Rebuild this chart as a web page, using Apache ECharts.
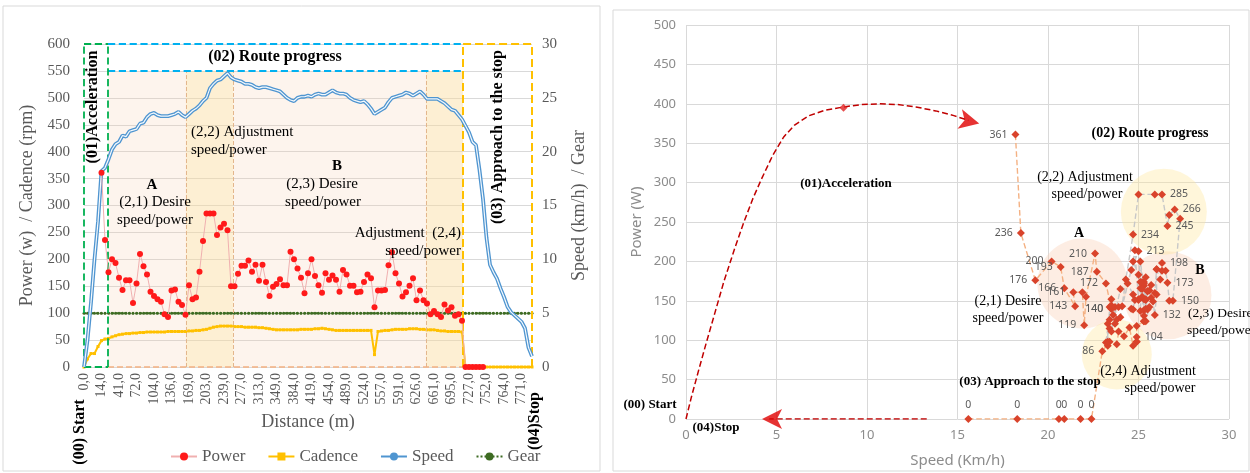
<!DOCTYPE html>
<html><head><meta charset="utf-8">
<script src="https://cdn.jsdelivr.net/npm/echarts@6/dist/echarts.min.js"></script>
<style>html,body{margin:0;padding:0;background:#fff}#c{width:1250px;height:473px}</style>
</head><body><div id="c"></div>
<script>
// ---------------- DATA ----------------
const distanceTicks = ['0,0','14,0','41,0','72,0','104,0','136,0','169,0','203,0','239,0','277,0','313,0','349,0','384,0','419,0','454,0','489,0','524,0','557,0','591,0','626,0','661,0','695,0','727,0','752,0','764,0','771,0'];

const power = [null,null,null,null,null,
361,236,176,200,193,166,143,161,161,119,
155,210,187,172,140,132,126,121,98,93,
142,144,121,115,97,152,126,129,177,234,
285,285,285,245,259,266,254,150,150,173,
188,188,198,177,190,160,190,158,132,149,
154,163,152,152,214,200,183,166,137,174,
200,169,152,138,174,162,170,162,140,180,
172,151,151,139,140,158,172,165,111,142,
142,143,189,213,174,155,131,139,151,165,
124,142,124,118,98,104,98,93,116,105,
111,95,98,86,0,0,0,0,0,0,
null,null,null,null,null,null,null,null,null,null,null,null,null,null];

const cadence = [0,15,25,25,38,49,52,53,56,58,
60,61,62,62,63,63,64,64,65,65,
65,65,65,65,66,66,66,66,66,66,
67,67,68,68,69,70,72,74,75,76,
76,76,76,75,75,75,74,74,74,74,
73,73,72,71,70,69,69,69,69,69,
69,69,70,70,70,70,71,71,72,71,
70,69,68,68,68,68,68,68,68,68,
68,68,68,23,66,67,68,68,69,70,
70,70,70,71,71,71,70,70,69,69,
69,68,67,67,66,66,66,66,65,0,
0,0,0,0,0,0,0,0,0,0,
0,0,0,0,0,0,0,0,0];

const speed = [0,2.5,6,10,13.5,18.2,18.5,19.3,20.2,20.7,
20.9,21.5,21.4,21.9,22.0,22.1,22.6,22.7,23.2,23.5,
23.6,23.4,23.3,23.3,23.3,23.4,23.5,23.7,23.4,23.2,
23.5,23.8,24.0,24.3,24.7,25.0,25.9,26.3,26.6,26.7,
27.0,27.3,26.9,26.7,26.6,26.5,26.3,26.3,26.2,26.0,
25.9,26.0,26.0,25.9,25.8,25.7,25.6,25.3,25.0,24.8,
24.7,25.0,25.1,25.1,25.2,25.1,25.3,25.4,25.3,25.3,
25.5,25.7,25.5,25.4,25.4,25.3,25.0,24.8,24.7,24.6,
24.7,24.4,24.0,23.5,23.7,23.9,24.1,24.6,25.0,25.1,
25.2,25.3,25.5,25.4,25.2,25.4,25.6,25.3,24.9,24.9,
24.9,24.9,24.7,24.5,24.2,23.9,23.8,23.4,23.0,22.4,
21.8,20.9,20.6,18.3,15.6,12.0,9.5,8.8,8.2,7.3,
6.5,5.6,5.1,4.8,4.5,4.2,3.6,1.8,1.0];

const gear = [5,5,5,5,5,5,5,5,5,5, 5,5,5,5,5,5,5,5,5,5, 5,5,5,5,5,5,5,5,5,5,
5,5,5,5,5,5,5,5,5,5, 5,5,5,5,5,5,5,5,5,5, 5,5,5,5,5,5,5,5,5,5,
5,5,5,5,5,5,5,5,5,5, 5,5,5,5,5,5,5,5,5,5, 5,5,5,5,5,5,5,5,5,5,
5,5,5,5,5,5,5,5,5,5, 5,5,5,5,5,5,5,5,5,5, 5,5,5,5,5,5,5,5,5,5,
5,5,5,5,5,5,5,5,5];

// labelled points of the speed/power chart: [index, label side]
const labelled = [[5,'left'],[6,'left'],[7,'left'],[8,'left'],[9,'left'],[10,'left'],[12,'left'],[11,'left'],
[14,'left'],[16,'left'],[17,'left'],[18,'left'],[19,'left'],[34,'right'],[37,'right'],[40,'right'],[38,'right'],
[88,'right'],[47,'right'],[44,'right'],[42,'right'],[53,'right'],[100,'right'],[108,'left'],
[109,'top'],[110,'top'],[111,'top'],[112,'top'],[113,'top'],[114,'top']];
const accelPoint = [[8.7,395]];
const accelCurve = [[0,0],[0.3,28],[0.7,62],[1.1,95],[1.6,135],[2.1,175],[2.7,217],[3.2,250],[3.7,280],[4.2,306],[4.8,335],[5.4,358],[6.0,373],[6.8,385],[7.7,392],[8.7,396],[9.7,399],[10.7,400],[11.7,399],[12.7,396],[13.8,391],[14.8,385],[15.6,379]];
const stopArrow = [[13.3,0],[4.6,0]];
const arrowHeads = [[16.2,375],[4.2,0]];

// ---------------- CHART ----------------
const SERIF = "'Liberation Serif','DejaVu Serif',serif";
const SANS = "'Noto Sans','Open Sans',sans-serif";
const chart = echarts.init(document.getElementById('c'), null, {renderer:'canvas'});

const pairs = (arr)=>arr.map((v,i)=>[i,v]);
const labelMap = {}; labelled.forEach(l=>labelMap[l[0]]=l[1]);
function spSeg(a,b){
  const out=[];
  for(let i=a;i<=b;i++){
    if(power[i]==null) continue;
    const it={value:[speed[i],power[i]]};
    if(labelMap[i]) it.label={show:true,position:labelMap[i],distance:4};
    out.push(it);
  }
  return out;
}
function seg(x1,y1,x2,y2,color,w,type){
  return [{coord:[x1,y1],lineStyle:{color:color,width:w,type:type}},{coord:[x2,y2]}];
}
const GREEN='#00b050', BLUE='#00b0f0', YEL='#ffc000', SAL='#f4b183', TAN='#e3b68c';
const xa=6.86, xb=108.3, x22a=29.1, x22b=42.6, x24=97.7;

function txt(x,y,t,opt){
  opt=opt||{};
  return {type:'text',x:x,y:y,rotation:opt.rot||0,z:100,silent:true,
    style:{text:t,x:0,y:0,fill:opt.fill||'#000',
      font:(opt.bold?'bold ':'')+(opt.size||15)+'px '+(opt.family||SERIF),
      textAlign:opt.align||'center',textVerticalAlign:'middle'}};
}
const R = Math.PI/2;

const option = {
  animation:false,
  grid:[{left:84,right:718,top:44,bottom:106},{left:686,right:21,top:25,bottom:53}],
  legend:{left:165,top:443,itemWidth:26,itemHeight:10,itemGap:22,
    data:['Power','Cadence','Speed','Gear'],
    textStyle:{fontFamily:SERIF,fontSize:17,color:'#595959'}},
  xAxis:[
    {type:'value',gridIndex:0,min:0,max:128,interval:5,
     axisLine:{show:true,lineStyle:{color:'#d9d9d9'}},axisTick:{show:false},splitLine:{show:false},
     axisLabel:{rotate:90,margin:6,showMaxLabel:false,fontFamily:SERIF,fontSize:14,color:'#595959',
       formatter:v=>distanceTicks[v/5]||''},
     name:'Distance (m)',nameLocation:'middle',nameGap:46,
     nameTextStyle:{fontFamily:SERIF,fontSize:18,color:'#595959'}},
    {type:'value',gridIndex:1,min:0,max:30,interval:5,
     axisLine:{show:false},axisTick:{show:false},
     splitLine:{show:true,lineStyle:{color:'#d9d9d9'}},
     axisLabel:{margin:10,fontFamily:SANS,fontSize:13,color:'#8c8c8c'},
     name:'Speed (Km/h)',nameLocation:'middle',nameGap:34,
     nameTextStyle:{fontFamily:SANS,fontSize:15,color:'#8c8c8c'}}
  ],
  yAxis:[
    {type:'value',gridIndex:0,min:0,max:600,interval:50,
     axisLine:{show:false},axisTick:{show:false},
     splitLine:{show:true,lineStyle:{color:'#d9d9d9'}},
     axisLabel:{margin:14,fontFamily:SERIF,fontSize:15,color:'#595959'},
     name:'Power (w)  / Cadence (rpm)',nameLocation:'middle',nameGap:48,nameRotate:90,
     nameTextStyle:{fontFamily:SERIF,fontSize:18,color:'#595959'}},
    {type:'value',gridIndex:0,position:'right',min:0,max:30,interval:5,
     axisLine:{show:false},axisTick:{show:false},splitLine:{show:false},
     axisLabel:{margin:10,fontFamily:SERIF,fontSize:15,color:'#595959'},
     name:'Speed (km/h)  / Gear',nameLocation:'middle',nameGap:38,nameRotate:90,
     nameTextStyle:{fontFamily:SERIF,fontSize:18,color:'#595959'}},
    {type:'value',gridIndex:1,min:0,max:500,interval:50,
     axisLine:{show:false},axisTick:{show:false},
     splitLine:{show:true,lineStyle:{color:'#d9d9d9'}},
     axisLabel:{margin:10,fontFamily:SANS,fontSize:13,color:'#8c8c8c'},
     name:'Power (W)',nameLocation:'middle',nameGap:42,nameRotate:90,
     nameTextStyle:{fontFamily:SANS,fontSize:15,color:'#8c8c8c'}}
  ],
  series:[
    {type:'line',name:'zones',xAxisIndex:0,yAxisIndex:0,data:[],silent:true,z:1,
     markArea:{silent:true,data:[
       [{coord:[xa,0],itemStyle:{color:'rgba(248,203,173,0.22)'}},{coord:[xb,550]}],
       [{coord:[x22a,0],itemStyle:{color:'rgba(255,230,153,0.3)'}},{coord:[x22b,550]}],
       [{coord:[x24,0],itemStyle:{color:'rgba(255,230,153,0.3)'}},{coord:[xb,550]}]
     ]},
     markLine:{silent:true,symbol:['none','none'],label:{show:false},data:[
       seg(x22a,0,x22a,550,TAN,1,'dashed'),
       seg(x22b,0,x22b,550,TAN,1,'dashed'),
       seg(x24,0,x24,550,TAN,1,'dashed'),
       seg(xa,0,xb,0,SAL,1.5,'dashed'),
       seg(xa,600,xb,600,BLUE,1.8,'dashed'),
       seg(xa,550,xb,550,BLUE,1.8,'dashed'),
       seg(0,0,0,600,GREEN,1.8,'dashed'),
       seg(xa,0,xa,600,GREEN,1.8,'dashed'),
       seg(0,600,xa,600,GREEN,1.8,'dashed'),
       seg(0,0,xa,0,GREEN,1.8,'dashed'),
       seg(xb,0,xb,600,YEL,2,'dashed'),
       seg(128,0,128,600,YEL,2,'dashed'),
       seg(xb,600,128,600,YEL,2,'dashed'),
       seg(xb,0,128,0,YEL,2,'dashed')
     ]}},
    {type:'line',name:'Gear',xAxisIndex:0,yAxisIndex:1,data:pairs(gear),z:3,
     symbol:'circle',symbolSize:3,itemStyle:{color:'#3d6b22'},
     lineStyle:{color:'#3d6b22',width:2,type:'dotted'}},
    {type:'line',name:'Cadence',xAxisIndex:0,yAxisIndex:0,data:pairs(cadence),z:4,
     symbol:'rect',symbolSize:3,itemStyle:{color:'#ffc000'},
     lineStyle:{color:'#ffc000',width:2}},
    {type:'line',name:'Speed',xAxisIndex:0,yAxisIndex:1,data:pairs(speed),z:5,
     symbol:'none',itemStyle:{color:'#4f95d0'},lineStyle:{color:'#4f95d0',width:3.8}},
    {type:'line',name:'speedInner',xAxisIndex:0,yAxisIndex:1,data:pairs(speed),z:6,silent:true,
     symbol:'none',lineStyle:{color:'#f4f9fd',width:1.2}},
    {type:'line',name:'Power',xAxisIndex:0,yAxisIndex:0,data:pairs(power),z:7,
     symbol:'circle',symbolSize:6,showAllSymbol:true,itemStyle:{color:'#ff1a1a'},
     lineStyle:{color:'#f0b0b0',width:1}},

    // ---- right chart ----
    {type:'scatter',name:'zonesR',xAxisIndex:1,yAxisIndex:2,silent:true,z:1,
     data:[
       {value:[21.9,172],symbolSize:90,itemStyle:{color:'rgba(248,203,173,0.42)'}},
       {value:[26.6,157],symbolSize:88,itemStyle:{color:'rgba(248,203,173,0.42)'}},
       {value:[26.4,263],symbolSize:86,itemStyle:{color:'rgba(255,230,153,0.45)'}},
       {value:[23.8,82],symbolSize:70,itemStyle:{color:'rgba(255,230,153,0.45)'}}
     ]},
    {type:'lines',name:'accelArrow',coordinateSystem:'cartesian2d',xAxisIndex:1,yAxisIndex:2,
     polyline:true,silent:true,z:3,
     lineStyle:{color:'#c00000',width:1.5,type:'dashed',opacity:1},
     data:[{coords:accelCurve},{coords:stopArrow}]},
    {type:'scatter',name:'arrowHeads',xAxisIndex:1,yAxisIndex:2,silent:true,z:3,
     symbol:'arrow',symbolSize:[15,20],itemStyle:{color:'#e00000'},
     data:[{value:arrowHeads[0],symbolRotate:-103},{value:arrowHeads[1],symbolRotate:90}]},
    {type:'scatter',name:'accelPt',xAxisIndex:1,yAxisIndex:2,z:5,data:accelPoint,
     symbol:'diamond',symbolSize:8,itemStyle:{color:'#e02020'}},
    ...[[5,19,'#f4b183'],[19,97,'#c8c8c8'],[97,114,'#f4b183']].map(s=>({
      type:'line',name:'sp'+s[0],xAxisIndex:1,yAxisIndex:2,z:4,
      data:spSeg(s[0],s[1]),symbol:'diamond',symbolSize:8,showAllSymbol:true,
      itemStyle:{color:'#d9432b'},
      lineStyle:{color:s[2],width:1.4,type:'dashed'},
      label:{show:false,fontFamily:SANS,fontSize:10.5,color:'#595959',formatter:p=>p.value[1]}
    }))
  ],
  graphic:[
    {type:'rect',shape:{x:3,y:6,width:597,height:465},style:{fill:'none',stroke:'#d9d9d9',lineWidth:1},silent:true,z:0},
    {type:'rect',shape:{x:613,y:10,width:636,height:461},style:{fill:'none',stroke:'#d9d9d9',lineWidth:1},silent:true,z:0},
    // left annotations
    txt(93,107,'(01)Acceleration',{bold:true,size:16,rot:R}),
    txt(275,57,'(02) Route progress',{bold:true,size:16}),
    txt(498,137,'(03) Approach to the stop',{bold:true,size:16,rot:R}),
    txt(152,185,'A',{bold:true,size:15}),
    txt(155,202,'(2,1) Desire',{size:15}),
    txt(155,220,'speed/power',{size:15}),
    txt(191,132,'(2,2) Adjustment',{size:15,align:'left'}),
    txt(191,150,'speed/power',{size:15,align:'left'}),
    txt(337,166,'B',{bold:true,size:15}),
    txt(322,184,'(2,3) Desire',{size:15}),
    txt(323,202,'speed/power',{size:15}),
    txt(461,233,'Adjustment  (2,4)',{size:15,align:'right'}),
    txt(461,251,'speed/power',{size:15,align:'right'}),
    txt(80,432,'(00) Start',{bold:true,size:16,rot:R}),
    txt(535,421,'(04)Stop',{bold:true,size:16,rot:R}),
    // right annotations
    txt(846,184,'(01)Acceleration',{bold:true,size:13}),
    txt(1150,133,'(02) Route progress',{bold:true,size:14}),
    txt(1085,177,'(2,2) Adjustment',{size:14}),
    txt(1087,194,'speed/power',{size:14}),
    txt(1079,233,'A',{bold:true,size:14}),
    txt(1008,301,'(2,1) Desire',{size:14}),
    txt(1008,318,'speed/power',{size:14}),
    txt(1200,270,'B',{bold:true,size:14}),
    txt(1188,313,'(2,3) Desire',{size:13.5,align:'left'}),
    txt(1187,330,'speed/power',{size:13.5,align:'left'}),
    txt(1148,371,'(2,4) Adjustment',{size:14}),
    txt(1160,388,'speed/power',{size:14}),
    txt(1030,382,'(03) Approach to the stop',{bold:true,size:13}),
    txt(650,405,'(00) Start',{bold:true,size:13}),
    txt(716,428,'(04)Stop',{bold:true,size:13})
  ]
};
chart.setOption(option);
</script></body></html>
